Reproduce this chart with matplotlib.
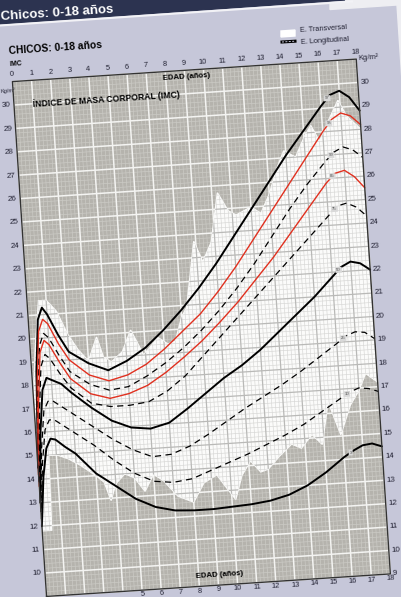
import numpy as np
import matplotlib.pyplot as plt
from matplotlib.transforms import Affine2D
from matplotlib.collections import LineCollection

# percentile curves of BMI (kg/m2) by age (years)
ages = [0, 0.25, 0.5, 0.75, 1, 1.5, 2, 3, 4, 5, 6, 7, 8, 9, 10, 11, 12, 13,
        14, 15, 16, 16.5, 17, 17.5, 18]
p97 = [14.5, 18.6, 20.8, 21.3, 21.0, 20.1, 19.35, 18.8, 18.45, 18.8, 19.3, 20.0,
       20.8, 21.7, 22.7, 23.8, 24.9, 26.0, 27.1, 28.1, 29.1, 29.55, 29.7, 29.4, 28.8]
p95 = [14.2, 18.1, 20.3, 20.8, 20.6, 19.7, 19.0, 18.3, 18.0, 18.2, 18.6, 19.2,
       19.9, 20.6, 21.5, 22.5, 23.6, 24.7, 25.8, 26.9, 28.0, 28.5, 28.75, 28.6, 28.2]
p90 = [13.9, 17.6, 19.7, 20.2, 20.0, 19.2, 18.5, 17.9, 17.6, 17.7, 18.1, 18.6,
       19.2, 19.9, 20.7, 21.6, 22.6, 23.7, 24.8, 25.8, 26.7, 27.1, 27.3, 27.15, 26.8]
p85 = [13.7, 17.2, 19.4, 19.9, 19.7, 18.9, 18.2, 17.5, 17.25, 17.4, 17.7, 18.2,
       18.8, 19.45, 20.2, 21.0, 21.9, 22.8, 23.8, 24.8, 25.8, 26.2, 26.3, 26.0, 25.5]
p75 = [13.4, 16.7, 18.8, 19.3, 19.1, 18.4, 17.8, 17.1, 16.9, 16.9, 17.0, 17.4,
       18.0, 18.8, 19.6, 20.4, 21.2, 22.0, 22.8, 23.6, 24.4, 24.8, 24.9, 24.7, 24.3]
p50 = [13.0, 16.0, 17.8, 18.3, 18.2, 18.0, 17.6, 16.9, 16.3, 15.95, 15.85, 16.05,
       16.6, 17.2, 17.8, 18.3, 18.9, 19.6, 20.3, 21.0, 21.8, 22.2, 22.4, 22.3, 22.0]
p25 = [12.6, 15.3, 16.9, 17.3, 17.3, 17.0, 16.7, 16.1, 15.5, 15.0, 14.65, 14.7,
       15.0, 15.45, 15.95, 16.45, 16.9, 17.35, 17.85, 18.4, 18.95, 19.25, 19.4, 19.35, 19.05]
p10 = [12.3, 14.7, 16.1, 16.5, 16.5, 16.2, 15.9, 15.3, 14.6, 14.0, 13.6, 13.5,
       13.6, 13.9, 14.2, 14.5, 14.85, 15.2, 15.6, 16.1, 16.6, 16.85, 17.0, 16.95, 16.8]
p3 = [12.0, 14.1, 15.3, 15.7, 15.65, 15.3, 15.0, 14.1, 13.5, 12.9, 12.5, 12.3,
      12.25, 12.25, 12.3, 12.35, 12.45, 12.65, 13.0, 13.5, 14.1, 14.35, 14.55, 14.6, 14.45]

# cross-sectional study range (white band)
up_age = [0, 0.3, 0.6, 1.0, 1.5, 2.0, 2.5, 3.0, 3.5, 3.8, 4.2, 4.8, 5.3, 5.9, 6.7,
          7.2, 7.6, 8.0, 8.3, 8.9, 9.3, 9.8, 10.3, 10.8, 11.2, 12.0, 12.5, 13.0,
          13.5, 13.9, 14.5, 15.0, 15.4, 15.8, 16.3, 16.9, 17.3, 18.0]
up_bmi = [17.5, 19.8, 21.6, 21.6, 21.1, 20.1, 19.4, 18.9, 19.9, 19.0, 18.8, 19.2,
          20.1, 19.0, 19.7, 19.4, 19.5, 20.5, 20.9, 23.7, 22.8, 23.6, 25.7, 24.9,
          24.7, 25.0, 24.7, 25.5, 26.6, 27.3, 27.0, 27.8, 28.3, 27.6, 28.4, 29.3,
          28.6, 28.0]
lo_age = [0, 0.5, 0.6, 1.0, 1.6, 2.2, 3.0, 3.4, 3.7, 4.0, 4.5, 5.0, 5.5, 6.0, 6.5,
          7.2, 8.0, 8.6, 9.3, 9.7, 10.2, 10.6, 11.1, 11.6, 12.0, 12.6, 13.3, 13.8,
          14.4, 14.9, 15.35, 15.9, 16.5, 17.0, 17.4, 18.0]
lo_bmi = [11.8, 11.8, 15.0, 15.0, 14.8, 14.5, 14.0, 13.7, 12.9, 13.6, 14.0, 13.8,
          13.2, 13.9, 13.6, 12.9, 12.6, 13.4, 13.7, 13.2, 12.6, 13.6, 14.2, 13.7,
          13.8, 14.3, 14.8, 14.6, 15.15, 14.7, 16.5, 15.06, 16.3, 16.9, 17.6, 17.2]

W, H = 402, 597
fig = plt.figure(figsize=(W / 100, H / 100), dpi=100)
fig.patch.set_facecolor("#c6c7d9")
ax = fig.add_axes([0, 0, 1, 1])
ax.set_xlim(0, W)
ax.set_ylim(H, 0)
ax.axis("off")

# the sheet was photographed slightly turned: map (age, bmi) onto the page
T = Affine2D(np.array([[19.1, -1.55, 60.5],
                       [-1.25, -23.4, 807.0],
                       [0, 0, 1]])) + ax.transData
ANG = np.degrees(np.arctan2(1.25, 19.1))
SANS = ["Liberation Sans", "DejaVu Sans"]


def put(a, b, s, **kw):
  kw.setdefault("family", SANS)
  ax.text(a, b, s, transform=T, rotation=ANG, rotation_mode="anchor", **kw)


def grid(minor_c, major_c, minor_w, major_w, clip=None):
  fine = np.round(np.arange(0, 18.001, 0.2), 2)
  fine_y = np.round(np.arange(9, 31.001, 0.2), 2)
  segs = [[(x, 9), (x, 31)] for x in fine if abs(x - round(x)) > 1e-6]
  segs += [[(0, y), (18, y)] for y in fine_y if abs(y - round(y)) > 1e-6]
  big = [[(x, 9), (x, 31)] for x in range(19)]
  big += [[(0, y), (18, y)] for y in range(9, 32)]
  z = 2.6 if clip is not None else 2
  for s, c, w in ((segs, minor_c, minor_w), (big, major_c, major_w)):
    lc = LineCollection(s, colors=c, linewidths=w, transform=T, zorder=z)
    ax.add_collection(lc)
    if clip is not None:
      lc.set_clip_path(clip)


# page decorations
ax.fill([330, 402, 402, 397, 330], [0, 0, 81, 5, 9.5], color="#eeeef2", zorder=0)
ax.fill([0, 345, 0], [0, 0, 24], color="#2c3350", zorder=1)
ax.plot([0, 352], [25.5, 1.5], color="#f2f2f6", lw=1.5, zorder=1)
ax.text(1, 20, "Chicos: 0-18 años", color="white", fontsize=9.5,
        fontweight="bold", family=SANS, rotation=ANG, rotation_mode="anchor",
        ha="left", va="baseline", zorder=2)

# plot area
ax.fill([0, 18, 18, 0], [9, 9, 31, 31], transform=T, color="#b5b3ad", zorder=1)
grid("#cbcac5", "#f4f4f2", 0.5, 1.1)
band = ax.fill(up_age + lo_age[::-1], up_bmi + lo_bmi[::-1], transform=T,
               color="#fbfbfa", zorder=2.5)[0]
grid("#d6d6d4", "#b9b9b7", 0.45, 0.9, clip=band)
ax.plot([0, 18, 18, 0, 0], [9, 9, 31, 31, 9], transform=T, color="#333333",
        lw=1.0, zorder=5)

# percentile curves
dash = (0, (5, 3.5))
curves = [(p97, "97", "k", "-", 1.4), (p95, "95", "#e0301f", "-", 1.0),
          (p90, "90", "k", dash, 0.9), (p85, "85", "#e0301f", "-", 1.0),
          (p75, "75", "k", dash, 0.9), (p50, "50", "k", "-", 1.4),
          (p25, "25", "k", dash, 0.9), (p10, "10", "k", dash, 0.9),
          (p3, "3", "k", "-", 1.4)]
for vals, name, col, ls, lw in curves:
  ax.plot(ages, vals, transform=T, color=col, ls=ls, lw=lw, zorder=4,
          solid_capstyle="round")
  put(16.35, np.interp(16.35, ages, vals), name, fontsize=3.2, color="#555555",
      ha="center", va="center", zorder=4.5,
      bbox=dict(boxstyle="square,pad=0.2", fc="#d9d9d9", ec="none"))

# axis labels
for a in range(19):
  put(a, 31.3, str(a), fontsize=5.5, color="#222233", ha="center", va="center")
for a in range(5, 19):
  put(a, 8.8, str(a), fontsize=5.5, color="#222233", ha="center", va="center")
for b in range(10, 31):
  put(-0.42, b, str(b), fontsize=5.8, color="#222233", ha="center", va="center")
for b in range(9, 31):
  put(18.12, b, str(b), fontsize=5.8, color="#222233", ha="left", va="center")
ax.text(0.5, 91, "Kg/m²", fontsize=4, family=SANS, color="#222233",
        rotation=ANG, rotation_mode="anchor", ha="left", va="center")
put(18.1, 31.05, "Kg/m²", fontsize=5.5, color="#222233", ha="left", va="center")
put(7.85, 30.72, "EDAD (años)", fontsize=5.6, fontweight="bold", ha="left",
    va="center", zorder=6)
put(7.85, 9.42, "EDAD (años)", fontsize=5.6, fontweight="bold", ha="left",
    va="center", zorder=6)
put(1.0, 30.0, "ÍNDICE DE MASA CORPORAL (IMC)", fontsize=6.2, fontweight="bold",
    ha="left", va="center", zorder=6)
put(-0.1, 32.3, "CHICOS: 0-18 años", fontsize=7.4, fontweight="bold",
    ha="left", va="center")
put(-0.1, 31.75, "IMC", fontsize=5, fontweight="bold", ha="left", va="center")

# legend
ax.fill([281, 295, 295, 281], [31, 30, 36, 37], color="white", zorder=3)
ax.plot([282, 295], [42, 41.2], color="k", lw=2.2, zorder=3)
ax.plot([282, 295], [42, 41.2], color="#c6c7d9", lw=0.7, ls=(0, (2, 1.5)), zorder=3)
ax.text(300, 31, "E. Transversal", fontsize=5.3, family=SANS, color="#222233",
        rotation=ANG, rotation_mode="anchor", ha="left", va="center")
ax.text(301, 43, "E. Longitudinal", fontsize=5.3, family=SANS, color="#222233",
        rotation=ANG, rotation_mode="anchor", ha="left", va="center")

fig.savefig("out.png", dpi=100, facecolor=fig.get_facecolor())
